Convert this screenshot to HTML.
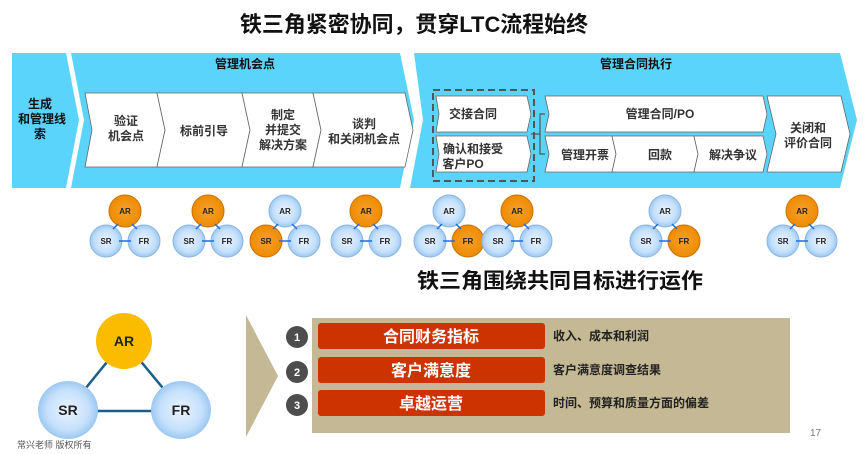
<!DOCTYPE html>
<html><head><meta charset="utf-8"><style>
html,body{margin:0;padding:0;background:#fff;}
svg{display:block;}
text{font-family:"Liberation Sans","Noto Sans CJK SC",sans-serif;}
</style></head><body>
<svg width="864" height="454" viewBox="0 0 864 454" xmlns="http://www.w3.org/2000/svg">
<defs>
<radialGradient id="bl" cx="50%" cy="50%" r="50%"><stop offset="0" stop-color="#eaf4ff"/><stop offset="0.7" stop-color="#c5e0fb"/><stop offset="1" stop-color="#9cc8f2"/></radialGradient>
<radialGradient id="or" cx="50%" cy="50%" r="50%"><stop offset="0" stop-color="#f7a030"/><stop offset="1" stop-color="#ee8c00"/></radialGradient>
<marker id="ah" markerWidth="6" markerHeight="6" refX="5" refY="3" orient="auto"><path d="M0,0 L6,3 L0,6z" fill="#1a6fe0"/></marker>
<marker id="ag" markerWidth="6" markerHeight="6" refX="5" refY="3" orient="auto"><path d="M0,0 L6,3 L0,6z" fill="#555"/></marker>
<g id="tri">
<line x1="0" y1="14" x2="-12" y2="24" stroke="#1a6fe0" stroke-width="1.2" marker-end="url(#ah)" marker-start="url(#ah)"/>
</g>
</defs>
<text x="414" y="32" font-size="22" font-weight="bold" text-anchor="middle" textLength="348" lengthAdjust="spacingAndGlyphs" fill="#111">铁三角紧密协同，贯穿LTC流程始终</text>

<!-- banners -->
<polygon points="12,53 66,53 79,120 66,188 12,188" fill="#5ad4fb"/>
<polygon points="71,53 400,53 414,120 400,188 71,188 84,120" fill="#5ad4fb"/>
<polygon points="414,53 840,53 857,120 840,188 410,188 423,120" fill="#5ad4fb"/>
<text x="40" y="108" font-size="12" font-weight="bold" text-anchor="middle" fill="#111">生成</text>
<text x="42" y="123" font-size="12" font-weight="bold" text-anchor="middle" fill="#111">和管理线</text>
<text x="40" y="138" font-size="12" font-weight="bold" text-anchor="middle" fill="#111">索</text>
<text x="245" y="68" font-size="12" font-weight="bold" text-anchor="middle" fill="#111">管理机会点</text>
<text x="636" y="68" font-size="12" font-weight="bold" text-anchor="middle" fill="#111">管理合同执行</text>

<g fill="#fff" stroke="#666" stroke-width="0.8">
<polygon points="85,93 157,93 165,130 157,167 85,167 92,130"/>
<polygon points="157,93 242,93 250,130 242,167 157,167 165,130"/>
<polygon points="242,93 313,93 321,130 313,167 242,167 250,130"/>
<polygon points="313,93 405,93 413,130 405,167 313,167 321,130"/>
<polygon points="436,96 527,96 531,114 527,132 436,132 439,114"/>
<polygon points="436,136 527,136 531,154 527,172 436,172 439,154"/>
<polygon points="545,96 763,96 767,114 763,132 545,132 549,114"/>
<polygon points="545,136 612,136 616,154 612,172 545,172 549,154"/>
<polygon points="612,136 694,136 698,154 694,172 612,172 616,154"/>
<polygon points="694,136 763,136 767,154 763,172 694,172 698,154"/>
<polygon points="767,96 841,96 850,134 841,172 767,172 776,134"/>
</g>
<rect x="433" y="90" width="101" height="91" fill="none" stroke="#555" stroke-width="2" stroke-dasharray="7,4"/>
<path d="M531,134 H540 V114 H545 M540,134 V154 H545" fill="none" stroke="#555" stroke-width="1.2"/>
<g font-size="12" font-weight="bold" fill="#333" text-anchor="middle">
<text x="126" y="125">验证</text><text x="126" y="140">机会点</text>
<text x="204" y="135">标前引导</text>
<text x="283" y="119">制定</text><text x="283" y="134">并提交</text><text x="283" y="149">解决方案</text>
<text x="364" y="128">谈判</text><text x="364" y="143">和关闭机会点</text>
<text x="473" y="118" text-anchor="middle">交接合同</text>
<text x="473" y="153">确认和接受</text><text x="463" y="168">客户PO</text>
<text x="660" y="118">管理合同/PO</text>
<text x="585" y="159">管理开票</text>
<text x="660" y="159">回款</text>
<text x="733" y="159">解决争议</text>
<text x="808" y="132">关闭和</text><text x="808" y="147">评价合同</text>
</g>

<!-- triads -->
<g font-size="8" font-weight="bold" fill="#222" text-anchor="middle">
<!-- 1 -->
<g transform="translate(125,0)">
<circle cx="0" cy="211" r="16" fill="url(#or)" stroke="#c97000"/><circle cx="-19" cy="241" r="16" fill="url(#bl)" stroke="#8bb6e0"/><circle cx="19" cy="241" r="16" fill="url(#bl)" stroke="#8bb6e0"/>
<text x="0" y="214">AR</text><text x="-19" y="244">SR</text><text x="19" y="244">FR</text>
<path d="M-7,224 L-12,229 M7,224 L12,229 M-6,241 H6" stroke="#1a6fe0" stroke-width="1.5"/></g>
<g transform="translate(208,0)">
<circle cx="0" cy="211" r="16" fill="url(#or)" stroke="#c97000"/><circle cx="-19" cy="241" r="16" fill="url(#bl)" stroke="#8bb6e0"/><circle cx="19" cy="241" r="16" fill="url(#bl)" stroke="#8bb6e0"/>
<text x="0" y="214">AR</text><text x="-19" y="244">SR</text><text x="19" y="244">FR</text>
<path d="M-7,224 L-12,229 M7,224 L12,229 M-6,241 H6" stroke="#1a6fe0" stroke-width="1.5"/></g>
<g transform="translate(285,0)">
<circle cx="0" cy="211" r="16" fill="url(#bl)" stroke="#8bb6e0"/><circle cx="-19" cy="241" r="16" fill="url(#or)" stroke="#c97000"/><circle cx="19" cy="241" r="16" fill="url(#bl)" stroke="#8bb6e0"/>
<text x="0" y="214">AR</text><text x="-19" y="244">SR</text><text x="19" y="244">FR</text>
<path d="M-7,224 L-12,229 M7,224 L12,229 M-6,241 H6" stroke="#1a6fe0" stroke-width="1.5"/></g>
<g transform="translate(366,0)">
<circle cx="0" cy="211" r="16" fill="url(#or)" stroke="#c97000"/><circle cx="-19" cy="241" r="16" fill="url(#bl)" stroke="#8bb6e0"/><circle cx="19" cy="241" r="16" fill="url(#bl)" stroke="#8bb6e0"/>
<text x="0" y="214">AR</text><text x="-19" y="244">SR</text><text x="19" y="244">FR</text>
<path d="M-7,224 L-12,229 M7,224 L12,229 M-6,241 H6" stroke="#1a6fe0" stroke-width="1.5"/></g>
<g transform="translate(449,0)">
<circle cx="0" cy="211" r="16" fill="url(#bl)" stroke="#8bb6e0"/><circle cx="-19" cy="241" r="16" fill="url(#bl)" stroke="#8bb6e0"/><circle cx="19" cy="241" r="16" fill="url(#or)" stroke="#c97000"/>
<text x="0" y="214">AR</text><text x="-19" y="244">SR</text><text x="19" y="244">FR</text>
<path d="M-7,224 L-12,229 M7,224 L12,229 M-6,241 H6" stroke="#1a6fe0" stroke-width="1.5"/></g>
<g transform="translate(517,0)">
<circle cx="0" cy="211" r="16" fill="url(#or)" stroke="#c97000"/><circle cx="-19" cy="241" r="16" fill="url(#bl)" stroke="#8bb6e0"/><circle cx="19" cy="241" r="16" fill="url(#bl)" stroke="#8bb6e0"/>
<text x="0" y="214">AR</text><text x="-19" y="244">SR</text><text x="19" y="244">FR</text>
<path d="M-7,224 L-12,229 M7,224 L12,229 M-6,241 H6" stroke="#1a6fe0" stroke-width="1.5"/></g>
<g transform="translate(665,0)">
<circle cx="0" cy="211" r="16" fill="url(#bl)" stroke="#8bb6e0"/><circle cx="-19" cy="241" r="16" fill="url(#bl)" stroke="#8bb6e0"/><circle cx="19" cy="241" r="16" fill="url(#or)" stroke="#c97000"/>
<text x="0" y="214">AR</text><text x="-19" y="244">SR</text><text x="19" y="244">FR</text>
<path d="M-7,224 L-12,229 M7,224 L12,229 M-6,241 H6" stroke="#1a6fe0" stroke-width="1.5"/></g>
<g transform="translate(802,0)">
<circle cx="0" cy="211" r="16" fill="url(#or)" stroke="#c97000"/><circle cx="-19" cy="241" r="16" fill="url(#bl)" stroke="#8bb6e0"/><circle cx="19" cy="241" r="16" fill="url(#bl)" stroke="#8bb6e0"/>
<text x="0" y="214">AR</text><text x="-19" y="244">SR</text><text x="19" y="244">FR</text>
<path d="M-7,224 L-12,229 M7,224 L12,229 M-6,241 H6" stroke="#1a6fe0" stroke-width="1.5"/></g>
</g>

<text x="560" y="288" font-size="21" font-weight="bold" text-anchor="middle" textLength="286" lengthAdjust="spacingAndGlyphs" fill="#111">铁三角围绕共同目标进行运作</text>

<!-- bottom left triangle -->
<line x1="124" y1="341" x2="68" y2="410" stroke="#1b5e8c" stroke-width="2.5"/>
<line x1="124" y1="341" x2="181" y2="410" stroke="#1b5e8c" stroke-width="2.5"/>
<line x1="68" y1="411" x2="181" y2="411" stroke="#1b5e8c" stroke-width="2.5"/>
<ellipse cx="124" cy="341" rx="28" ry="28" fill="#fbbc00"/>
<ellipse cx="68" cy="410" rx="30" ry="29" fill="url(#bl)"/>
<ellipse cx="181" cy="410" rx="30" ry="29" fill="url(#bl)"/>
<g font-size="14" font-weight="bold" fill="#222" text-anchor="middle">
<text x="124" y="346">AR</text><text x="68" y="415">SR</text><text x="181" y="415">FR</text></g>
<text x="17" y="448" font-size="9" fill="#555" font-family="Liberation Serif,Noto Serif CJK SC,serif">常兴老师  版权所有</text>

<!-- right panel -->
<polygon points="246,315 278,376 246,437" fill="#c4b994"/>
<rect x="312" y="318" width="478" height="115" fill="#c4b994"/>
<g>
<rect x="318" y="323" width="227" height="26" rx="3" fill="#cc3300"/>
<rect x="318" y="357" width="227" height="26" rx="3" fill="#cc3300"/>
<rect x="318" y="390" width="227" height="26" rx="3" fill="#cc3300"/>
</g>
<g font-size="16" font-weight="bold" fill="#fff" text-anchor="middle">
<text x="431" y="342">合同财务指标</text><text x="431" y="376">客户满意度</text><text x="431" y="409">卓越运营</text></g>
<g fill="#4d4d4d"><circle cx="297" cy="337" r="11"/><circle cx="297" cy="372" r="11"/><circle cx="297" cy="405" r="11"/></g>
<g font-size="11" font-weight="bold" fill="#fff" text-anchor="middle">
<text x="297" y="341">1</text><text x="297" y="376">2</text><text x="297" y="409">3</text></g>
<g font-size="12" font-weight="bold" fill="#222">
<text x="553" y="340">收入、成本和利润</text><text x="553" y="374">客户满意度调查结果</text><text x="553" y="407">时间、预算和质量方面的偏差</text></g>
<text x="810" y="436" font-size="10" fill="#777">17</text>
</svg>
</body></html>
